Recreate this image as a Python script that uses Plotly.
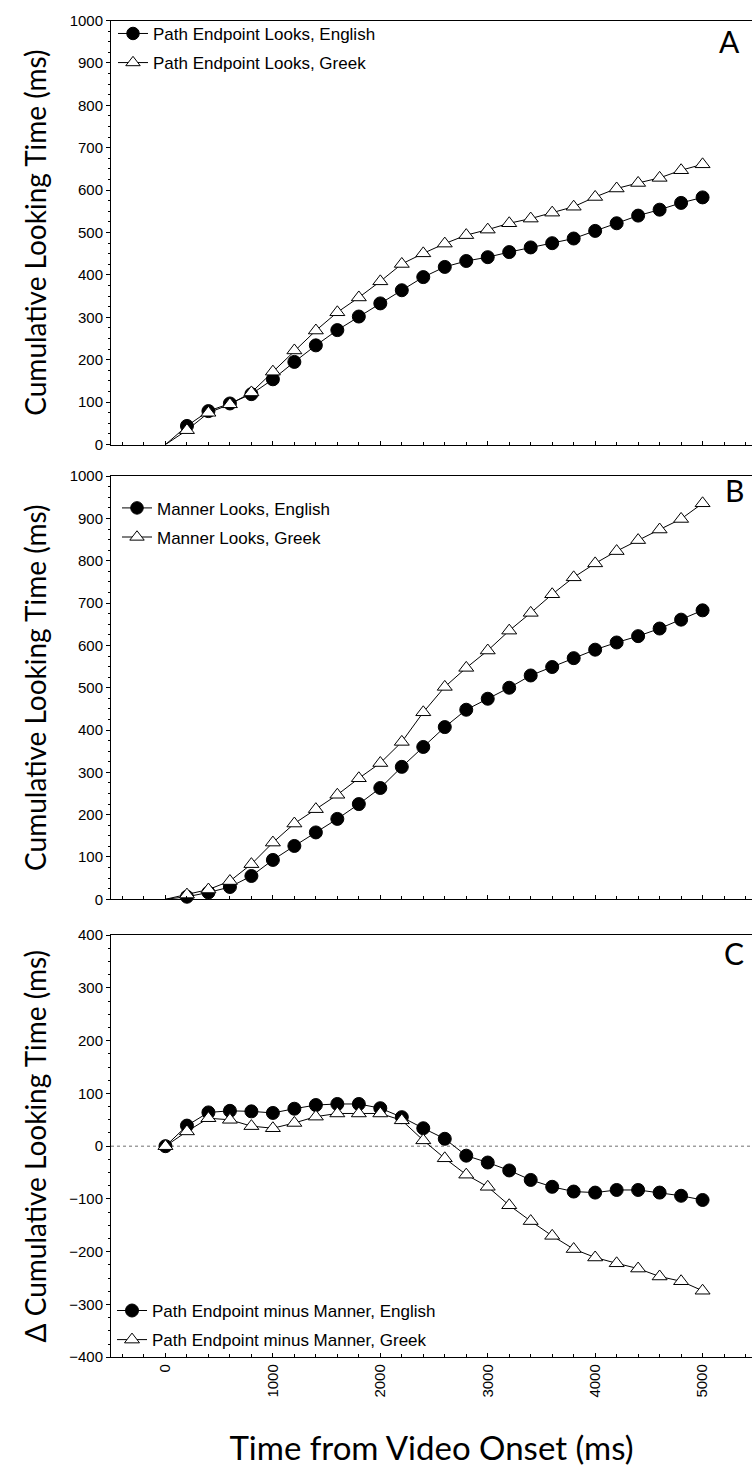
import plotly.graph_objects as go

# ---------------- data ----------------
time_ms = [0, 200, 400, 600, 800, 1000, 1200, 1400, 1600, 1800, 2000, 2200, 2400,
           2600, 2800, 3000, 3200, 3400, 3600, 3800, 4000, 4200, 4400, 4600, 4800, 5000]

path_english = [0, 44, 79, 97, 119, 154, 195, 234, 270, 302, 333, 364, 395,
                419, 433, 442, 454, 465, 475, 486, 504, 522, 540, 554, 570, 583]
path_greek = [0, 34, 75, 95, 123, 172, 222, 269, 312, 347, 385, 426, 451,
              474, 494, 507, 522, 533, 547, 561, 584, 604, 617, 629, 647, 661]

manner_english = [0, 6, 16, 29, 55, 93, 126, 158, 190, 225, 263, 313, 360,
                  407, 448, 474, 500, 529, 549, 570, 590, 607, 622, 640, 661, 683]
manner_greek = [0, 11, 23, 43, 83, 134, 179, 213, 247, 286, 322, 372, 442,
                502, 547, 588, 635, 677, 721, 761, 794, 823, 849, 874, 899, 936]

diff_english = [0, 39, 64, 67, 66, 63, 71, 78, 80, 80, 72, 55, 34,
                14, -18, -31, -46, -64, -77, -86, -88, -83, -83, -88, -94, -102]
diff_greek = [0, 28, 53, 50, 38, 34, 44, 56, 62, 62, 62, 49, 11,
              -23, -54, -77, -112, -142, -170, -195, -211, -222, -232, -247, -256, -274]

x_tick_vals = [0, 1000, 2000, 3000, 4000, 5000]
x_tick_text = ["0", "1000", "2000", "3000", "4000", "5000"]

names_a = ["Path Endpoint Looks, English", "Path Endpoint Looks, Greek"]
names_b = ["Manner Looks, English", "Manner Looks, Greek"]
names_c = ["Path Endpoint minus Manner, English", "Path Endpoint minus Manner, Greek"]
panel_letters = ["A", "B", "C"]
y_title = "Cumulative Looking Time (ms)"
y_title_c = "\u0394 Cumulative Looking Time (ms)"
x_title = "Time from Video Onset (ms)"

# ---------------- layout helpers ----------------
W, H = 752, 1468
def py(px):
    return 1 - px / H

x_dom = [111 / W, 1.0]
y_doms = [[py(440.7), py(11.7)], [py(900.7), py(472.7)], [py(1364), py(937)]]
x_range = [-507, 5460]

TICK_FONT = dict(family="Liberation Sans, Arial, sans-serif", size=15, color="black")
LEG_FONT = dict(family="Liberation Sans, Arial, sans-serif", size=17, color="black")
YTITLE_FONT = dict(family="Lato, sans-serif", size=28, color="black")
XTITLE_FONT = dict(family="Lato, sans-serif", size=33, color="black")
MS = 13

fig = go.Figure()

def add_pair(eng, grk, names, idx, hide_first):
    xa = "x" if idx == 1 else f"x{idx}"
    ya = "y" if idx == 1 else f"y{idx}"
    leg = "legend" if idx == 1 else f"legend{idx}"
    sizes = [0 if (hide_first and i == 0) else MS for i in range(len(time_ms))]
    fig.add_trace(go.Scatter(
        x=time_ms, y=eng, name=names[0], mode="lines+markers",
        xaxis=xa, yaxis=ya, legend=leg, legendgroup=f"e{idx}",
        line=dict(color="black", width=1),
        marker=dict(symbol="circle", size=sizes, color="black", opacity=1,
                    line=dict(color="black", width=1)),
        cliponaxis=False))
    fig.add_trace(go.Scatter(
        x=time_ms, y=grk, name=names[1], mode="lines+markers",
        xaxis=xa, yaxis=ya, legend=leg, legendgroup=f"g{idx}",
        line=dict(color="black", width=1),
        marker=dict(symbol="triangle-up", size=sizes, color="white", opacity=1,
                    line=dict(color="black", width=1)),
        cliponaxis=False))

add_pair(path_english, path_greek, names_a, 1, True)
add_pair(manner_english, manner_greek, names_b, 2, True)
add_pair(diff_english, diff_greek, names_c, 3, False)

common_x = dict(domain=x_dom, range=x_range, showline=True, linecolor="black",
                linewidth=1, mirror=True, ticks="inside", ticklen=4,
                tickcolor="black", showgrid=False, zeroline=False,
                tickvals=x_tick_vals, ticktext=x_tick_text,
                minor=dict(dtick=200, tick0=0, ticks="inside", ticklen=3,
                           tickcolor="black", showgrid=False),
                tickfont=TICK_FONT)
common_y = dict(showline=True, linecolor="black", linewidth=1, ticks="outside",
                ticklen=4, tickcolor="black", showgrid=False, zeroline=False,
                dtick=100, minor=dict(dtick=25, ticks="outside", ticklen=2,
                                      tickcolor="black", showgrid=False),
                tickfont=TICK_FONT)

layout = dict(width=W, height=H, margin=dict(l=0, r=0, t=0, b=0),
              paper_bgcolor="white", plot_bgcolor="white", showlegend=True)

layout["xaxis"] = dict(common_x, anchor="y", showticklabels=False)
layout["xaxis2"] = dict(common_x, anchor="y2", showticklabels=False)
layout["xaxis3"] = dict(common_x, anchor="y3", showticklabels=True, tickangle=-90,
                        title=dict(text=x_title, font=XTITLE_FONT, standoff=40))
layout["yaxis"] = dict(common_y, domain=y_doms[0], anchor="x", range=[0, 1000],
                       title=dict(text=y_title, font=YTITLE_FONT, standoff=14))
layout["yaxis2"] = dict(common_y, domain=y_doms[1], anchor="x2", range=[0, 1000],
                        title=dict(text=y_title, font=YTITLE_FONT, standoff=14))
layout["yaxis3"] = dict(common_y, domain=y_doms[2], anchor="x3", range=[-400, 400],
                        title=dict(text=y_title_c, font=YTITLE_FONT, standoff=14))

leg_common = dict(xanchor="left", yanchor="top", bgcolor="rgba(0,0,0,0)",
                  font=LEG_FONT, tracegroupgap=4, traceorder="grouped",
                  itemsizing="trace")
layout["legend"] = dict(leg_common, x=113 / W, y=py(7))
layout["legend2"] = dict(leg_common, x=117 / W, y=py(487))
layout["legend3"] = dict(leg_common, x=112 / W, y=py(1299))

fig.update_layout(**layout)

# zero reference line in panel C
fig.add_shape(type="line", xref="x3 domain", yref="y3", x0=0, x1=1, y0=0, y1=0,
              line=dict(color="#707070", width=1, dash="dot"), layer="below")

# panel letters
letter_pos = [(729, 32), (734, 487), (734, 955)]
for letter, (lx, ly) in zip(panel_letters, letter_pos):
    fig.add_annotation(text=letter, xref="paper", yref="paper", x=lx / W, y=py(ly),
                       showarrow=False, xanchor="center", yanchor="middle",
                       font=dict(family="Lato, sans-serif", size=30, color="black"))

fig.write_html("out.html")
